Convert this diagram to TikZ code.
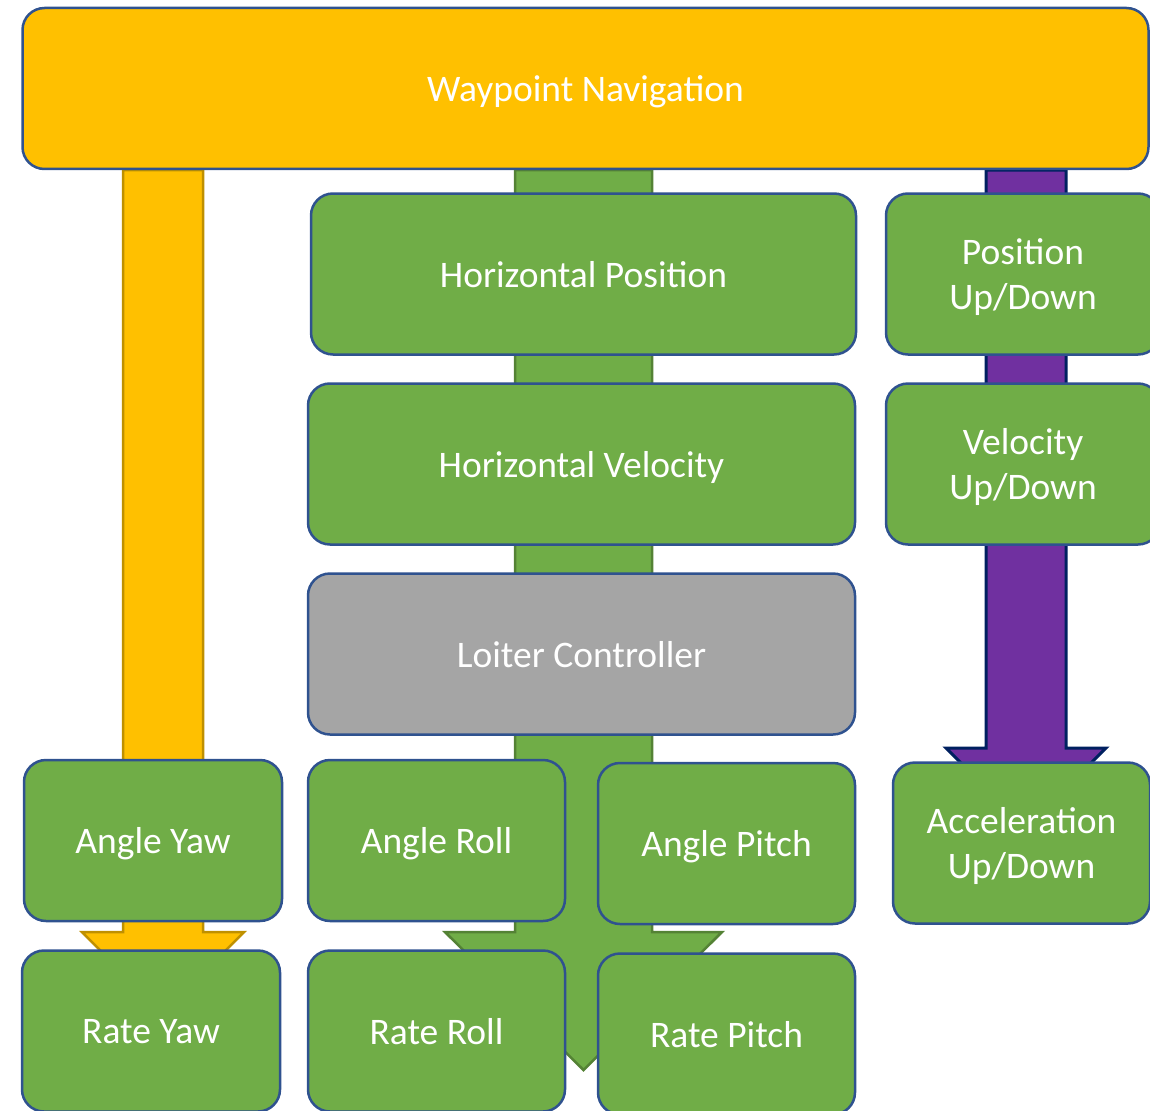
\documentclass[tikz,border=0pt]{standalone}
\usepackage{fontspec}
\setmainfont{Carlito}
\usetikzlibrary{calc}

\pgfdeclarelayer{back}
\pgfsetlayers{back,main}

\definecolor{boxEdge}{HTML}{2F528F}
\definecolor{ctrlGreen}{HTML}{70AD47}
\definecolor{ctrlGray}{HTML}{A5A5A5}
\definecolor{navYellow}{HTML}{FFC000}
\definecolor{navYellowEdge}{HTML}{BF9000}
\definecolor{greenEdge}{HTML}{548235}
\definecolor{altPurple}{HTML}{7030A0}
\definecolor{purpleEdge}{HTML}{002060}

% #1 style, #2 start node, #3 tip, #4 half shaft, #5 half head, #6 head length
\newcommand{\blockArrow}[6]{%
  \path[#1] let \p1=(#3), \p2=(#2) in
    (\x1-#4,\y2) -- (\x1-#4,\y1+#6) -- (\x1-#5,\y1+#6) -- (\p1)
    -- (\x1+#5,\y1+#6) -- (\x1+#4,\y1+#6) -- (\x1+#4,\y2) -- cycle;}

\begin{document}
\begin{tikzpicture}[x=1pt,y=-1pt,
  ctrlBox/.style={draw=boxEdge, line width=2.5pt, rounded corners=22pt,
    fill=ctrlGreen, text=white, inner sep=0pt, align=center, text depth=0pt,
    minimum width=257pt, minimum height=161pt,
    font=\fontsize{37.5}{45}\selectfont},
  wideBox/.style={ctrlBox, minimum width=545pt},
  arrowShape/.style={line width=2.5pt, line join=miter}]
\useasboundingbox (0,0) rectangle (1150,1110);
\clip (0,0) rectangle (1150,1110);

	% top level and the three loops below it
	\node[ctrlBox, fill=navYellow, minimum width=1126pt] (wpn) at (585.5,88.5) {Waypoint Navigation};
	\node[wideBox] (hpos) at (583.5,274) {Horizontal Position};
	\node[wideBox, minimum width=547pt] (hvel) at (581.5,464) {Horizontal Velocity};
	\node[wideBox, minimum width=547pt, fill=ctrlGray] (loiter) at (581.5,654) {Loiter Controller};
	\node[ctrlBox, minimum width=274pt] (zpos) at (1023,274) {Position\\Up/Down};
	\node[ctrlBox, minimum width=274pt] (zvel) at (1023,464) {Velocity\\Up/Down};
	\node[ctrlBox] (zacc) at (1021.5,843) {Acceleration\\Up/Down};

	% attitude and rate loops
	\node[ctrlBox, minimum width=258pt] (yaw) at (153,840.5) {Angle Yaw};
	\node[ctrlBox] (roll) at (436.5,840.5) {Angle Roll};
	\node[ctrlBox] (pitch) at (726.5,843.5) {Angle Pitch};
	\node[ctrlBox, minimum width=258pt] (ryaw) at (151,1031) {Rate Yaw};
	\node[ctrlBox] (rroll) at (436.5,1031) {Rate Roll};
	\node[ctrlBox] (rpitch) at (726.5,1034) {Rate Pitch};

	\coordinate (yawTip) at (163,1014);
	\coordinate (loiterTip) at (583.5,1070);
	\coordinate (accTip) at (1026,828);

	\begin{pgfonlayer}{back}
	\blockArrow{arrowShape, fill=navYellow, draw=navYellowEdge}{wpn.south}{yawTip}{40pt}{81pt}{82pt}
	\blockArrow{arrowShape, fill=ctrlGreen, draw=greenEdge}{wpn.south}{loiterTip}{68.5pt}{138.5pt}{138pt}
	\blockArrow{arrowShape, fill=altPurple, draw=purpleEdge, line width=3pt}{wpn.south}{accTip}{40pt}{80pt}{80pt}
	\end{pgfonlayer}
\end{tikzpicture}
\end{document}
